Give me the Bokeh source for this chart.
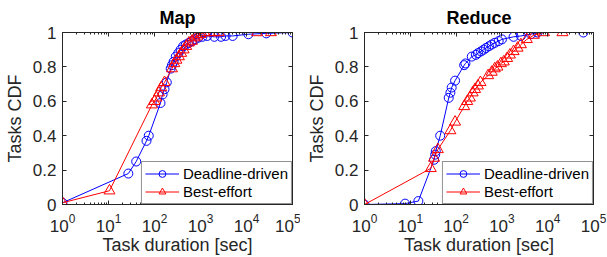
from bokeh.plotting import figure
from bokeh.layouts import row
from bokeh.models import (LogAxis, LinearAxis, FixedTicker, LogTicker, Legend, LegendItem, Range1d)
from bokeh.embed import file_html
from bokeh.resources import INLINE

# ---------------- data ----------------
map_dd_x = [1, 27, 40, 67, 75, 135, 150, 165, 185, 225, 240, 260, 290, 330, 370, 420, 480, 560, 650,
            760, 900, 1100, 1400, 2000, 2800, 3500, 5000, 11000, 27000, 100000]
map_dd_y = [0.01, 0.18, 0.25, 0.37, 0.40, 0.59, 0.64, 0.67, 0.71, 0.79, 0.81, 0.83, 0.86, 0.88, 0.90,
            0.92, 0.93, 0.94, 0.95, 0.96, 0.97, 0.975, 0.98, 0.975, 0.975, 0.98, 0.98, 0.99, 0.995, 1.0]

map_be_x = [1, 10.5, 88, 100, 110, 125, 140, 165, 240, 270, 300, 340, 380, 430, 490, 560, 650, 750,
            850, 1000, 1200, 1600, 2000, 2500, 17000, 34000]
map_be_y = [0.01, 0.08, 0.58, 0.60, 0.62, 0.65, 0.68, 0.71, 0.79, 0.82, 0.84, 0.86, 0.88, 0.90, 0.92,
            0.94, 0.95, 0.97, 0.98, 0.99, 1.0, 1.0, 1.0, 1.0, 1.0, 1.0]

red_dd_x = [1, 7.7, 15, 33, 35, 36, 45, 69, 75, 80, 95, 150, 160, 220, 270, 300, 350, 400, 450, 520,
            600, 700, 850, 1000, 1800, 2600, 4300, 6000, 60000]
red_dd_y = [0.0, 0.005, 0.02, 0.26, 0.29, 0.31, 0.40, 0.62, 0.65, 0.68, 0.72, 0.81, 0.82, 0.86, 0.87,
            0.88, 0.89, 0.90, 0.91, 0.92, 0.93, 0.94, 0.95, 0.96, 0.975, 0.98, 0.99, 1.0, 1.0]

red_be_x = [1, 28, 33, 40, 75, 95, 150, 175, 200, 230, 260, 300, 340, 500, 600, 700, 800, 950, 1100,
            1300, 1500, 1800, 2200, 2600, 3500, 5000, 8300, 21000]
red_be_y = [0.0, 0.21, 0.27, 0.32, 0.43, 0.48, 0.57, 0.60, 0.62, 0.65, 0.67, 0.69, 0.71, 0.75, 0.77,
            0.79, 0.80, 0.82, 0.83, 0.85, 0.87, 0.89, 0.91, 0.93, 0.96, 0.985, 1.0, 1.0]

y_ticks = [0, 0.2, 0.4, 0.6, 0.8, 1]
series_labels = ["Deadline-driven", "Best-effort"]
titles = ["Map", "Reduce"]

FONT = "Liberation Sans"
TXT = "#262626"
BLUE = "#0000ff"
RED = "#ff0000"


def make(title, dd_x, dd_y, be_x, be_y, width, left, right):
    p = figure(width=width, height=257, x_axis_type="log", output_backend="svg",
               toolbar_location=None, x_range=Range1d(1, 1e5), y_range=Range1d(0, 1),
               min_border_left=left, min_border_right=right, min_border_top=32,
               min_border_bottom=50)
    p.title.text = title
    p.title.align = "center"
    p.title.text_font = FONT
    p.title.text_font_size = "18px"
    p.title.text_font_style = "bold"
    p.title.text_color = "black"
    p.grid.visible = False
    p.outline_line_color = TXT
    p.outline_line_alpha = 1

    l1 = p.line(dd_x, dd_y, color=BLUE, line_width=1)
    s1 = p.scatter(dd_x, dd_y, marker="circle", size=9, line_color=BLUE, fill_color=None, line_width=1)
    l2 = p.line(be_x, be_y, color=RED, line_width=1)
    s2 = p.scatter(be_x, be_y, marker="triangle", size=11, line_color=RED, fill_color=None, line_width=1)

    xa = p.xaxis[0]
    xa.ticker = LogTicker(num_minor_ticks=10)
    ya = p.yaxis[0]
    ya.ticker = FixedTicker(ticks=y_ticks)
    ya.major_label_overrides = {0: "0", 1: "1"}
    for ax in (xa, ya):
        ax.major_tick_in = 4
        ax.major_tick_out = 0
        ax.minor_tick_in = 2
        ax.minor_tick_out = 0
        ax.axis_line_color = TXT
        ax.major_tick_line_color = TXT
        ax.minor_tick_line_color = TXT
        ax.major_label_text_font = FONT
        ax.major_label_text_font_size = "17px"
        ax.major_label_text_color = TXT
        ax.axis_label_text_font = FONT
        ax.axis_label_text_font_size = "18px"
        ax.axis_label_text_font_style = "normal"
        ax.axis_label_text_color = TXT
    xa.axis_label = "Task duration [sec]"
    xa.axis_label_standoff = 0
    xa.major_label_standoff = 9
    ya.axis_label = "Tasks CDF"
    ya.axis_label_standoff = 5
    ya.major_label_standoff = 6

    top = LogAxis(ticker=LogTicker(num_minor_ticks=10), major_label_text_font_size="1px",
                  major_label_text_alpha=0,
                  major_tick_in=4, major_tick_out=0, minor_tick_in=2, minor_tick_out=0,
                  axis_line_color=TXT, major_tick_line_color=TXT, minor_tick_line_color=TXT,
                  major_label_standoff=0)
    rgt = LinearAxis(ticker=FixedTicker(ticks=y_ticks), major_label_text_font_size="1px",
                     major_label_text_alpha=0,
                     major_tick_in=4, major_tick_out=0, minor_tick_line_color=None,
                     axis_line_color=TXT, major_tick_line_color=TXT, major_label_standoff=0)
    p.add_layout(top, "above")
    p.add_layout(rgt, "right")

    legend = Legend(items=[LegendItem(label=series_labels[0], renderers=[l1, s1]),
                           LegendItem(label=series_labels[1], renderers=[l2, s2])],
                    location="bottom_right", margin=0, padding=3, spacing=1,
                    glyph_width=34, glyph_height=17, label_standoff=4,
                    label_text_font=FONT, label_text_font_size="15px", label_text_color="black",
                    border_line_color=TXT, border_line_width=1, background_fill_alpha=1)
    p.add_layout(legend, "center")
    return p


p1 = make(titles[0], map_dd_x, map_dd_y, map_be_x, map_be_y, 300, 62, 8)
p2 = make(titles[1], red_dd_x, red_dd_y, red_be_x, red_be_y, 307, 64, 14)
lay = row(p1, p2)
open("out.html", "w").write(file_html(lay, INLINE))
